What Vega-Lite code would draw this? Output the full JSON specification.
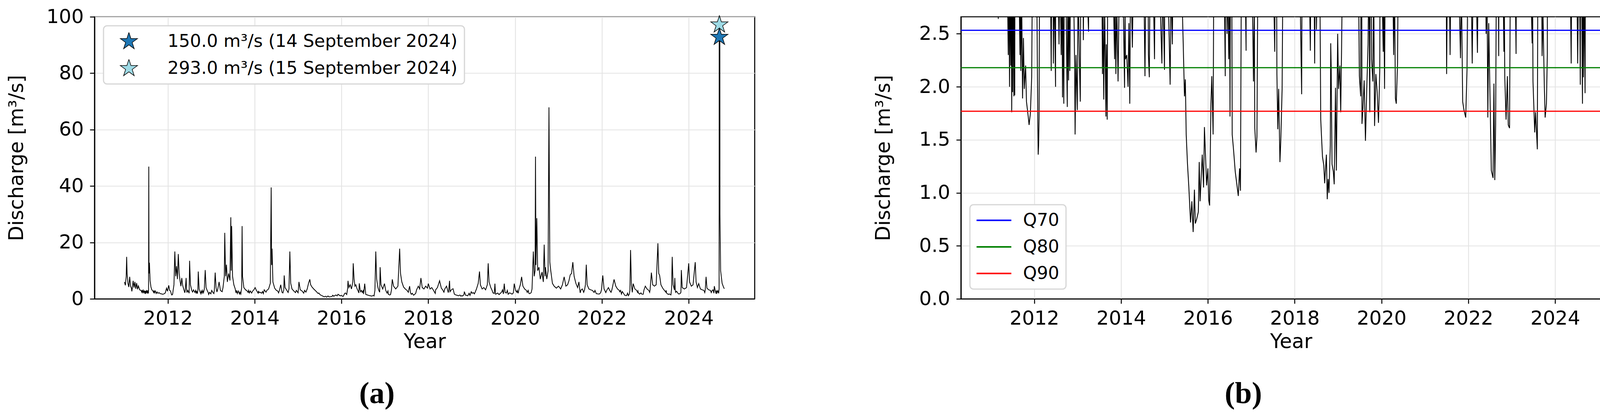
{
  "$schema": "https://vega.github.io/schema/vega-lite/v6.json",
  "usermeta": {"embedOptions": {"actions": false}},
  "background": "white",
  "padding": {"left": 16, "top": 16, "right": 10, "bottom": 10},
  "bounds": "flush",
  "spacing": 528,
  "resolve": {"scale": {"color": "independent"}, "legend": {"color": "independent"}},
  "datasets": {
    "flow": [
      {"t":2011.00,"q":6.0},{"t":2011.02,"q":4.8},{"t":2011.04,"q":8.0},{"t":2011.05,"q":14.9},{"t":2011.06,"q":9.0},{"t":2011.08,"q":5.5},{"t":2011.10,"q":4.2},{"t":2011.12,"q":7.8},{"t":2011.14,"q":4.5},{"t":2011.16,"q":3.8},{"t":2011.17,"q":2.64},{"t":2011.18,"q":3.8},{"t":2011.20,"q":6.4},{"t":2011.22,"q":4.0},{"t":2011.24,"q":6.0},{"t":2011.26,"q":3.6},{"t":2011.28,"q":5.6},{"t":2011.30,"q":3.4},{"t":2011.32,"q":4.6},{"t":2011.35,"q":3.2},{"t":2011.38,"q":3.0},{"t":2011.40,"q":2.3},{"t":2011.41,"q":3.2},{"t":2011.43,"q":2.0},{"t":2011.44,"q":3.0},{"t":2011.46,"q":2.2},{"t":2011.47,"q":2.9},{"t":2011.48,"q":1.76},{"t":2011.49,"q":2.8},{"t":2011.50,"q":1.95},{"t":2011.51,"q":3.1},{"t":2011.53,"q":1.91},{"t":2011.54,"q":3.0},{"t":2011.55,"q":1.92},{"t":2011.555,"q":3.6},{"t":2011.56,"q":46.9},{"t":2011.565,"q":9.0},{"t":2011.575,"q":12.8},{"t":2011.59,"q":6.5},{"t":2011.61,"q":4.2},{"t":2011.63,"q":3.2},{"t":2011.65,"q":2.9},{"t":2011.67,"q":2.30},{"t":2011.68,"q":3.0},{"t":2011.69,"q":2.15},{"t":2011.71,"q":2.8},{"t":2011.73,"q":1.89},{"t":2011.75,"q":2.46},{"t":2011.77,"q":1.98},{"t":2011.80,"q":2.2},{"t":2011.82,"q":1.86},{"t":2011.84,"q":1.79},{"t":2011.86,"q":1.72},{"t":2011.88,"q":1.64},{"t":2011.91,"q":1.75},{"t":2011.94,"q":2.09},{"t":2011.955,"q":3.0},{"t":2011.97,"q":3.8},{"t":2011.99,"q":2.7},
      {"t":2012.02,"q":4.8},{"t":2012.04,"q":3.0},{"t":2012.06,"q":2.8},{"t":2012.08,"q":1.70},{"t":2012.09,"q":1.36},{"t":2012.10,"q":1.45},{"t":2012.11,"q":1.70},{"t":2012.12,"q":2.9},{"t":2012.14,"q":5.0},{"t":2012.16,"q":16.8},{"t":2012.18,"q":8.0},{"t":2012.20,"q":11.6},{"t":2012.22,"q":7.0},{"t":2012.24,"q":15.9},{"t":2012.26,"q":9.0},{"t":2012.28,"q":6.4},{"t":2012.30,"q":4.5},{"t":2012.32,"q":7.4},{"t":2012.34,"q":4.8},{"t":2012.37,"q":3.2},{"t":2012.39,"q":2.15},{"t":2012.40,"q":3.0},{"t":2012.42,"q":7.4},{"t":2012.43,"q":3.5},{"t":2012.44,"q":2.22},{"t":2012.46,"q":3.0},{"t":2012.49,"q":2.00},{"t":2012.50,"q":13.5},{"t":2012.52,"q":5.0},{"t":2012.55,"q":3.0},{"t":2012.57,"q":2.4},{"t":2012.59,"q":3.2},{"t":2012.62,"q":2.3},{"t":2012.64,"q":3.0},{"t":2012.65,"q":1.90},{"t":2012.66,"q":2.8},{"t":2012.68,"q":1.84},{"t":2012.69,"q":3.0},{"t":2012.70,"q":9.7},{"t":2012.72,"q":3.5},{"t":2012.74,"q":2.5},{"t":2012.76,"q":1.81},{"t":2012.77,"q":2.8},{"t":2012.79,"q":2.06},{"t":2012.80,"q":3.0},{"t":2012.82,"q":2.15},{"t":2012.84,"q":3.5},{"t":2012.86,"q":10.2},{"t":2012.88,"q":4.0},{"t":2012.91,"q":2.8},{"t":2012.93,"q":2.2},{"t":2012.94,"q":1.55},{"t":2012.96,"q":2.3},{"t":2012.99,"q":1.78},
      {"t":2013.01,"q":3.0},{"t":2013.04,"q":2.2},{"t":2013.06,"q":1.86},{"t":2013.07,"q":3.0},{"t":2013.09,"q":9.3},{"t":2013.11,"q":4.0},{"t":2013.13,"q":2.44},{"t":2013.15,"q":3.5},{"t":2013.18,"q":6.0},{"t":2013.21,"q":3.0},{"t":2013.25,"q":2.52},{"t":2013.27,"q":4.0},{"t":2013.30,"q":8.0},{"t":2013.31,"q":23.4},{"t":2013.33,"q":8.0},{"t":2013.35,"q":12.1},{"t":2013.37,"q":6.0},{"t":2013.40,"q":9.0},{"t":2013.43,"q":6.5},{"t":2013.45,"q":28.9},{"t":2013.46,"q":10.0},{"t":2013.47,"q":25.8},{"t":2013.49,"q":8.0},{"t":2013.52,"q":5.0},{"t":2013.55,"q":3.6},{"t":2013.57,"q":2.12},{"t":2013.58,"q":3.0},{"t":2013.60,"q":1.88},{"t":2013.62,"q":2.8},{"t":2013.65,"q":1.72},{"t":2013.66,"q":2.4},{"t":2013.68,"q":1.69},{"t":2013.70,"q":4.0},{"t":2013.71,"q":25.8},{"t":2013.72,"q":8.0},{"t":2013.75,"q":4.0},{"t":2013.79,"q":3.2},{"t":2013.82,"q":2.9},{"t":2013.85,"q":2.26},{"t":2013.86,"q":3.0},{"t":2013.88,"q":2.12},{"t":2013.90,"q":2.8},{"t":2013.93,"q":2.05},{"t":2013.95,"q":2.7},{"t":2013.98,"q":3.2},
      {"t":2014.01,"q":4.0},{"t":2014.04,"q":3.0},{"t":2014.08,"q":1.99},{"t":2014.09,"q":2.8},{"t":2014.10,"q":2.26},{"t":2014.13,"q":2.3},{"t":2014.16,"q":2.0},{"t":2014.18,"q":2.6},{"t":2014.20,"q":1.84},{"t":2014.22,"q":3.2},{"t":2014.26,"q":2.37},{"t":2014.28,"q":3.0},{"t":2014.32,"q":3.5},{"t":2014.36,"q":5.5},{"t":2014.38,"q":39.5},{"t":2014.39,"q":12.0},{"t":2014.40,"q":17.8},{"t":2014.42,"q":6.0},{"t":2014.46,"q":3.8},{"t":2014.50,"q":3.0},{"t":2014.53,"q":2.8},{"t":2014.55,"q":2.10},{"t":2014.57,"q":3.0},{"t":2014.60,"q":5.0},{"t":2014.63,"q":2.3},{"t":2014.65,"q":2.09},{"t":2014.67,"q":3.2},{"t":2014.68,"q":8.3},{"t":2014.70,"q":4.0},{"t":2014.74,"q":3.0},{"t":2014.77,"q":2.26},{"t":2014.79,"q":3.5},{"t":2014.81,"q":16.8},{"t":2014.83,"q":5.5},{"t":2014.86,"q":3.5},{"t":2014.90,"q":2.8},{"t":2014.94,"q":2.22},{"t":2014.96,"q":3.0},{"t":2015.00,"q":2.16},{"t":2015.02,"q":6.0},{"t":2015.05,"q":3.2},{"t":2015.09,"q":2.8},{"t":2015.13,"q":2.02},{"t":2015.15,"q":3.0},{"t":2015.18,"q":2.4},{"t":2015.21,"q":3.5},{"t":2015.24,"q":5.5},{"t":2015.27,"q":6.9},{"t":2015.29,"q":5.0},{"t":2015.32,"q":4.2},{"t":2015.36,"q":3.5},{"t":2015.40,"q":2.9},{"t":2015.43,"q":2.43},{"t":2015.46,"q":1.91},{"t":2015.48,"q":2.07},{"t":2015.50,"q":1.55},{"t":2015.53,"q":1.27},{"t":2015.56,"q":1.06},{"t":2015.60,"q":0.72},{"t":2015.63,"q":0.92},{"t":2015.66,"q":0.63},{"t":2015.69,"q":1.03},{"t":2015.71,"q":0.71},{"t":2015.74,"q":0.75},{"t":2015.78,"q":0.82},{"t":2015.80,"q":1.29},{"t":2015.82,"q":0.92},{"t":2015.87,"q":1.36},{"t":2015.90,"q":1.05},{"t":2015.92,"q":1.62},{"t":2015.95,"q":1.30},{"t":2015.97,"q":1.07},
      {"t":2016.00,"q":1.23},{"t":2016.02,"q":0.93},{"t":2016.04,"q":0.88},{"t":2016.07,"q":1.84},{"t":2016.09,"q":2.10},{"t":2016.12,"q":1.55},{"t":2016.14,"q":3.5},{"t":2016.15,"q":6.4},{"t":2016.17,"q":4.0},{"t":2016.20,"q":5.0},{"t":2016.23,"q":3.5},{"t":2016.26,"q":6.0},{"t":2016.27,"q":12.6},{"t":2016.29,"q":7.0},{"t":2016.31,"q":4.5},{"t":2016.33,"q":5.0},{"t":2016.36,"q":3.5},{"t":2016.38,"q":2.9},{"t":2016.40,"q":2.10},{"t":2016.41,"q":5.5},{"t":2016.43,"q":3.2},{"t":2016.44,"q":2.5},{"t":2016.46,"q":3.0},{"t":2016.48,"q":2.26},{"t":2016.50,"q":2.9},{"t":2016.51,"q":1.72},{"t":2016.535,"q":5.4},{"t":2016.56,"q":1.55},{"t":2016.59,"q":1.41},{"t":2016.63,"q":1.20},{"t":2016.67,"q":1.07},{"t":2016.70,"q":0.97},{"t":2016.73,"q":1.23},{"t":2016.75,"q":1.02},{"t":2016.77,"q":3.0},{"t":2016.79,"q":16.8},{"t":2016.81,"q":7.0},{"t":2016.84,"q":4.0},{"t":2016.86,"q":3.0},{"t":2016.88,"q":2.34},{"t":2016.89,"q":11.2},{"t":2016.91,"q":5.0},{"t":2016.95,"q":3.5},{"t":2016.99,"q":5.4},
      {"t":2017.02,"q":3.0},{"t":2017.05,"q":2.05},{"t":2017.07,"q":2.8},{"t":2017.08,"q":1.61},{"t":2017.11,"q":1.38},{"t":2017.13,"q":1.53},{"t":2017.15,"q":3.0},{"t":2017.17,"q":6.9},{"t":2017.20,"q":4.5},{"t":2017.25,"q":3.5},{"t":2017.30,"q":4.5},{"t":2017.34,"q":17.8},{"t":2017.36,"q":9.0},{"t":2017.39,"q":6.0},{"t":2017.43,"q":4.2},{"t":2017.47,"q":3.5},{"t":2017.51,"q":3.0},{"t":2017.54,"q":2.33},{"t":2017.55,"q":3.2},{"t":2017.57,"q":4.5},{"t":2017.59,"q":2.12},{"t":2017.61,"q":1.60},{"t":2017.63,"q":1.98},{"t":2017.66,"q":1.29},{"t":2017.68,"q":1.50},{"t":2017.71,"q":1.98},{"t":2017.73,"q":3.2},{"t":2017.77,"q":4.5},{"t":2017.80,"q":3.5},{"t":2017.83,"q":7.4},{"t":2017.86,"q":4.0},{"t":2017.90,"q":3.5},{"t":2017.94,"q":4.5},{"t":2017.98,"q":3.8},
      {"t":2018.00,"q":5.4},{"t":2018.04,"q":3.5},{"t":2018.08,"q":4.0},{"t":2018.12,"q":3.0},{"t":2018.16,"q":1.93},{"t":2018.17,"q":3.2},{"t":2018.21,"q":4.0},{"t":2018.26,"q":6.4},{"t":2018.30,"q":3.8},{"t":2018.33,"q":3.2},{"t":2018.36,"q":2.34},{"t":2018.38,"q":3.5},{"t":2018.42,"q":4.5},{"t":2018.46,"q":2.22},{"t":2018.47,"q":3.0},{"t":2018.49,"q":6.4},{"t":2018.50,"q":2.54},{"t":2018.53,"q":3.2},{"t":2018.57,"q":3.6},{"t":2018.60,"q":1.69},{"t":2018.62,"q":1.51},{"t":2018.64,"q":1.34},{"t":2018.67,"q":1.26},{"t":2018.69,"q":1.09},{"t":2018.73,"q":1.36},{"t":2018.75,"q":0.94},{"t":2018.77,"q":1.13},{"t":2018.79,"q":1.00},{"t":2018.82,"q":1.45},{"t":2018.83,"q":2.41},{"t":2018.84,"q":2.19},{"t":2018.86,"q":1.27},{"t":2018.89,"q":1.20},{"t":2018.91,"q":1.08},{"t":2018.94,"q":1.99},{"t":2018.96,"q":1.21},{"t":2018.99,"q":2.50},
      {"t":2019.01,"q":1.98},{"t":2019.04,"q":2.20},{"t":2019.06,"q":1.76},{"t":2019.08,"q":2.36},{"t":2019.11,"q":3.5},{"t":2019.15,"q":5.5},{"t":2019.18,"q":9.7},{"t":2019.20,"q":5.0},{"t":2019.24,"q":3.5},{"t":2019.28,"q":4.0},{"t":2019.32,"q":3.2},{"t":2019.36,"q":5.0},{"t":2019.38,"q":12.6},{"t":2019.40,"q":6.0},{"t":2019.44,"q":4.0},{"t":2019.47,"q":3.0},{"t":2019.49,"q":2.10},{"t":2019.52,"q":1.91},{"t":2019.535,"q":5.4},{"t":2019.55,"q":1.65},{"t":2019.57,"q":1.78},{"t":2019.60,"q":2.06},{"t":2019.63,"q":1.49},{"t":2019.66,"q":1.98},{"t":2019.69,"q":2.40},{"t":2019.71,"q":3.2},{"t":2019.73,"q":1.76},{"t":2019.75,"q":5.4},{"t":2019.77,"q":2.26},{"t":2019.80,"q":2.05},{"t":2019.82,"q":3.0},{"t":2019.84,"q":1.63},{"t":2019.87,"q":2.12},{"t":2019.90,"q":1.95},{"t":2019.93,"q":1.66},{"t":2019.96,"q":2.15},{"t":2019.98,"q":5.4},
      {"t":2020.01,"q":3.0},{"t":2020.04,"q":2.33},{"t":2020.05,"q":3.0},{"t":2020.07,"q":1.98},{"t":2020.09,"q":3.5},{"t":2020.12,"q":5.0},{"t":2020.15,"q":7.8},{"t":2020.18,"q":4.5},{"t":2020.22,"q":3.5},{"t":2020.26,"q":3.0},{"t":2020.28,"q":2.30},{"t":2020.30,"q":3.0},{"t":2020.32,"q":1.89},{"t":2020.34,"q":1.84},{"t":2020.37,"q":2.23},{"t":2020.39,"q":3.5},{"t":2020.42,"q":16.8},{"t":2020.44,"q":8.0},{"t":2020.46,"q":10.0},{"t":2020.47,"q":50.4},{"t":2020.48,"q":12.0},{"t":2020.50,"q":28.6},{"t":2020.52,"q":10.0},{"t":2020.55,"q":11.2},{"t":2020.58,"q":7.0},{"t":2020.62,"q":9.5},{"t":2020.65,"q":6.0},{"t":2020.67,"q":19.2},{"t":2020.69,"q":8.0},{"t":2020.70,"q":11.2},{"t":2020.73,"q":7.0},{"t":2020.76,"q":10.0},{"t":2020.78,"q":67.9},{"t":2020.80,"q":13.0},{"t":2020.82,"q":10.2},{"t":2020.86,"q":5.5},{"t":2020.90,"q":4.5},{"t":2020.95,"q":3.8},
      {"t":2021.00,"q":4.5},{"t":2021.05,"q":3.5},{"t":2021.09,"q":5.0},{"t":2021.13,"q":7.8},{"t":2021.17,"q":4.5},{"t":2021.21,"q":5.0},{"t":2021.24,"q":6.4},{"t":2021.27,"q":8.5},{"t":2021.30,"q":9.0},{"t":2021.33,"q":13.0},{"t":2021.36,"q":8.0},{"t":2021.40,"q":5.5},{"t":2021.44,"q":4.0},{"t":2021.47,"q":6.0},{"t":2021.49,"q":3.2},{"t":2021.50,"q":2.12},{"t":2021.52,"q":3.2},{"t":2021.55,"q":3.5},{"t":2021.58,"q":2.30},{"t":2021.60,"q":3.2},{"t":2021.62,"q":5.0},{"t":2021.64,"q":12.1},{"t":2021.66,"q":5.0},{"t":2021.70,"q":3.5},{"t":2021.74,"q":3.2},{"t":2021.78,"q":3.0},{"t":2021.82,"q":2.27},{"t":2021.84,"q":3.0},{"t":2021.87,"q":1.86},{"t":2021.90,"q":1.78},{"t":2021.94,"q":1.71},{"t":2021.97,"q":2.16},{"t":2021.99,"q":3.2},
      {"t":2022.02,"q":8.3},{"t":2022.05,"q":3.5},{"t":2022.09,"q":2.22},{"t":2022.11,"q":3.0},{"t":2022.15,"q":4.0},{"t":2022.18,"q":3.0},{"t":2022.21,"q":2.32},{"t":2022.23,"q":3.2},{"t":2022.28,"q":6.9},{"t":2022.32,"q":4.5},{"t":2022.36,"q":3.5},{"t":2022.40,"q":3.0},{"t":2022.41,"q":2.5},{"t":2022.43,"q":3.0},{"t":2022.45,"q":1.71},{"t":2022.47,"q":2.6},{"t":2022.50,"q":1.91},{"t":2022.53,"q":1.21},{"t":2022.57,"q":1.14},{"t":2022.59,"q":2.03},{"t":2022.61,"q":1.12},{"t":2022.63,"q":1.65},{"t":2022.645,"q":3.0},{"t":2022.66,"q":17.3},{"t":2022.68,"q":5.0},{"t":2022.70,"q":2.29},{"t":2022.72,"q":5.4},{"t":2022.76,"q":3.5},{"t":2022.80,"q":3.0},{"t":2022.82,"q":2.33},{"t":2022.83,"q":2.8},{"t":2022.84,"q":2.09},{"t":2022.87,"q":1.69},{"t":2022.90,"q":2.1},{"t":2022.92,"q":1.64},{"t":2022.95,"q":1.61},{"t":2022.97,"q":3.2},
      {"t":2023.00,"q":4.5},{"t":2023.04,"q":3.5},{"t":2023.08,"q":3.0},{"t":2023.10,"q":2.31},{"t":2023.11,"q":3.2},{"t":2023.14,"q":9.3},{"t":2023.17,"q":5.0},{"t":2023.21,"q":4.5},{"t":2023.25,"q":5.0},{"t":2023.29,"q":19.7},{"t":2023.31,"q":9.0},{"t":2023.33,"q":8.3},{"t":2023.36,"q":5.0},{"t":2023.40,"q":3.8},{"t":2023.44,"q":3.0},{"t":2023.47,"q":2.41},{"t":2023.48,"q":3.0},{"t":2023.49,"q":2.05},{"t":2023.53,"q":1.57},{"t":2023.55,"q":1.76},{"t":2023.59,"q":1.41},{"t":2023.605,"q":3.5},{"t":2023.62,"q":14.9},{"t":2023.64,"q":5.0},{"t":2023.67,"q":3.2},{"t":2023.68,"q":7.4},{"t":2023.69,"q":3.0},{"t":2023.70,"q":2.29},{"t":2023.72,"q":2.7},{"t":2023.75,"q":2.03},{"t":2023.77,"q":1.71},{"t":2023.80,"q":1.84},{"t":2023.82,"q":2.30},{"t":2023.83,"q":10.2},{"t":2023.85,"q":4.0},{"t":2023.90,"q":3.5},{"t":2023.95,"q":4.0},
      {"t":2024.00,"q":12.6},{"t":2024.02,"q":6.0},{"t":2024.06,"q":4.5},{"t":2024.10,"q":5.0},{"t":2024.15,"q":13.0},{"t":2024.17,"q":6.0},{"t":2024.20,"q":4.0},{"t":2024.23,"q":5.4},{"t":2024.27,"q":3.5},{"t":2024.31,"q":3.2},{"t":2024.35,"q":3.0},{"t":2024.37,"q":2.22},{"t":2024.38,"q":3.0},{"t":2024.40,"q":7.8},{"t":2024.42,"q":3.8},{"t":2024.46,"q":3.2},{"t":2024.50,"q":3.0},{"t":2024.52,"q":2.22},{"t":2024.54,"q":3.0},{"t":2024.56,"q":3.2},{"t":2024.58,"q":2.02},{"t":2024.59,"q":4.5},{"t":2024.61,"q":3.0},{"t":2024.63,"q":1.84},{"t":2024.64,"q":3.0},{"t":2024.65,"q":2.09},{"t":2024.67,"q":2.9},{"t":2024.69,"q":1.94},{"t":2024.70,"q":3.5},{"t":2024.704,"q":150.0},{"t":2024.708,"q":293.0},{"t":2024.72,"q":30.0},{"t":2024.735,"q":10.0},{"t":2024.75,"q":8.0},{"t":2024.77,"q":5.5},{"t":2024.80,"q":4.2},{"t":2024.82,"q":3.6}
    ],
    "stars": [
      {"t":2024.706,"marker":97.2,"label":"293.0 m³/s (15 September 2024)"},
      {"t":2024.706,"marker":92.8,"label":"150.0 m³/s (14 September 2024)"}
    ],
    "thresholds": [
      {"name":"Q70","v":2.533},
      {"name":"Q80","v":2.180},
      {"name":"Q90","v":1.769}
    ]
  },
  "config": {
    "font": "DejaVu Sans",
    "view": {"stroke": "black", "strokeWidth": 2.7},
    "axis": {
      "labelFont": "DejaVu Sans", "labelFontSize": 50, "labelColor": "black",
      "titleFont": "DejaVu Sans", "titleFontSize": 51, "titleFontWeight": "normal", "titleColor": "black",
      "domainColor": "black", "domainWidth": 2.7,
      "tickColor": "black", "tickWidth": 2.5, "tickSize": 12,
      "gridColor": "#e3e3e3", "gridWidth": 2.2
    },
    "axisX": {"labelPadding": 13, "titlePadding": 10},
    "axisY": {"labelPadding": 16},
    "legend": {
      "labelFont": "DejaVu Sans", "labelFontSize": 45, "labelColor": "black", "labelLimit": 0,
      "fillColor": "white", "strokeColor": "#d6d6d6", "strokeWidth": 3, "cornerRadius": 9,
      "padding": 17, "clipHeight": 46
    },
    "title": {"font": "Liberation Serif", "fontSize": 78, "fontWeight": "bold", "color": "black"}
  },
  "hconcat": [
    {
      "width": 1690, "height": 722,
      "title": {"text": "(a)", "orient": "bottom", "anchor": "middle", "frame": "group", "dx": -122, "offset": 70},
      "layer": [
        {
          "data": {"name": "flow"},
          "mark": {"type": "line", "color": "black", "strokeWidth": 2, "clip": true},
          "encoding": {
            "x": {"field": "t", "type": "quantitative", "scale": {"domain": [2010.31, 2025.52], "nice": false, "zero": false},
                  "axis": {"title": "Year", "values": [2012, 2014, 2016, 2018, 2020, 2022, 2024], "format": "d"}},
            "y": {"field": "q", "type": "quantitative", "scale": {"domain": [0, 100], "nice": false},
                  "axis": {"title": "Discharge [m³/s]", "values": [0, 20, 40, 60, 80, 100], "titlePadding": 49}}
          }
        },
        {
          "data": {"name": "stars"},
          "mark": {"type": "point", "shape": "M0,-1L0.2245,-0.309L0.9511,-0.309L0.3633,0.118L0.5878,0.809L0,0.382L-0.5878,0.809L-0.3633,0.118L-0.9511,-0.309L-0.2245,-0.309Z", "filled": true, "size": 2140, "stroke": "black", "strokeWidth": 1.5, "opacity": 1},
          "encoding": {
            "x": {"field": "t", "type": "quantitative"},
            "y": {"field": "marker", "type": "quantitative"},
            "color": {"field": "label", "type": "nominal",
              "scale": {"domain": ["150.0 m³/s (14 September 2024)", "293.0 m³/s (15 September 2024)"], "range": ["#1f77b4", "#9edae5"]},
              "legend": {"title": null, "orient": "none", "legendX": 23, "legendY": 23,
                "symbolType": "M0,-1L0.2245,-0.309L0.9511,-0.309L0.3633,0.118L0.5878,0.809L0,0.382L-0.5878,0.809L-0.3633,0.118L-0.9511,-0.309L-0.2245,-0.309Z",
                "symbolSize": 2140, "symbolStrokeColor": "black", "symbolStrokeWidth": 1.5, "symbolOpacity": 1, "rowPadding": 23, "symbolOffset": 24, "labelOffset": 75}}
          }
        }
      ]
    },
    {
      "width": 1690, "height": 722,
      "title": {"text": "(b)", "orient": "bottom", "anchor": "middle", "frame": "group", "dx": -122, "offset": 70},
      "layer": [
        {
          "data": {"name": "flow"},
          "mark": {"type": "line", "color": "black", "strokeWidth": 2.2, "clip": true},
          "encoding": {
            "x": {"field": "t", "type": "quantitative", "scale": {"domain": [2010.31, 2025.52], "nice": false, "zero": false},
                  "axis": {"title": "Year", "values": [2012, 2014, 2016, 2018, 2020, 2022, 2024], "format": "d"}},
            "y": {"field": "q", "type": "quantitative", "scale": {"domain": [0, 2.66], "nice": false},
                  "axis": {"title": "Discharge [m³/s]", "values": [0, 0.5, 1, 1.5, 2, 2.5], "format": ".1f", "titlePadding": 64}}
          }
        },
        {
          "data": {"name": "thresholds"},
          "mark": {"type": "rule", "strokeWidth": 3},
          "encoding": {
            "y": {"field": "v", "type": "quantitative"},
            "color": {"field": "name", "type": "nominal",
              "scale": {"domain": ["Q70", "Q80", "Q90"], "range": ["#0000ff", "#008000", "#ff0000"]},
              "legend": {"title": null, "orient": "none", "legendX": 23, "legendY": 481, "symbolType": "stroke", "symbolSize": 9025, "symbolStrokeWidth": 4, "symbolOffset": -8, "rowPadding": 22, "labelOffset": 28}}
          }
        }
      ]
    }
  ]
}
